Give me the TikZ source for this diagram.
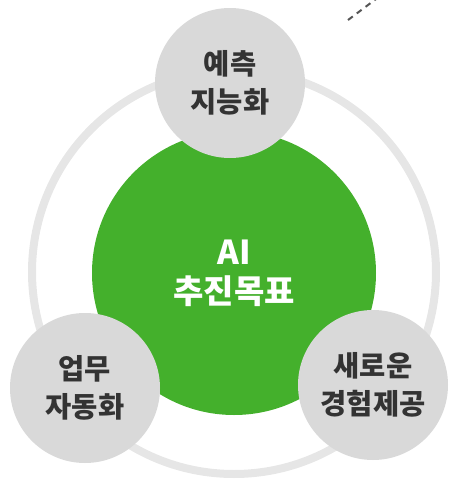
\documentclass[tikz,border=0pt]{standalone}
\usepackage{fontspec}
\newfontfamily\kr{Noto Sans CJK KR}
\definecolor{ringgray}{HTML}{E6E6E6}
\definecolor{circgray}{HTML}{D9D9D9}
\definecolor{aigreen}{HTML}{44B02C}
\definecolor{txtgray}{HTML}{333333}
\definecolor{dashgray}{HTML}{555555}
\begin{document}
\begin{tikzpicture}[x=1pt,y=-1pt,
  goal/.style={circle,fill=circgray,minimum size=150pt,inner sep=0pt,align=center,
    text=txtgray,font=\kr\bfseries\fontsize{28.5}{38}\selectfont},
  core/.style={circle,fill=aigreen,minimum size=284pt,inner sep=0pt,align=center,
    text=white,font=\kr\bfseries\fontsize{33}{39}\selectfont}]
\useasboundingbox (0,0) rectangle (449,483);
\coordinate (c) at (234,272);
\draw[ringgray,line width=8pt] (c) circle[radius=202];
\node[core] (ai) at (234,273) {AI\\추진목표};
\node[goal] (p) at (230,83) {예측\\지능화};
\node[goal] (w) at (85,388) {업무\\자동화};
\node[goal] (n) at (373,385) {새로운\\경험제공};
\coordinate (d1) at (348,20);
\coordinate (d2) at (376,-1);
\draw[dashgray,line width=2pt,dash pattern=on 6pt off 5pt] (d1) -- (d2);
\end{tikzpicture}
\end{document}
